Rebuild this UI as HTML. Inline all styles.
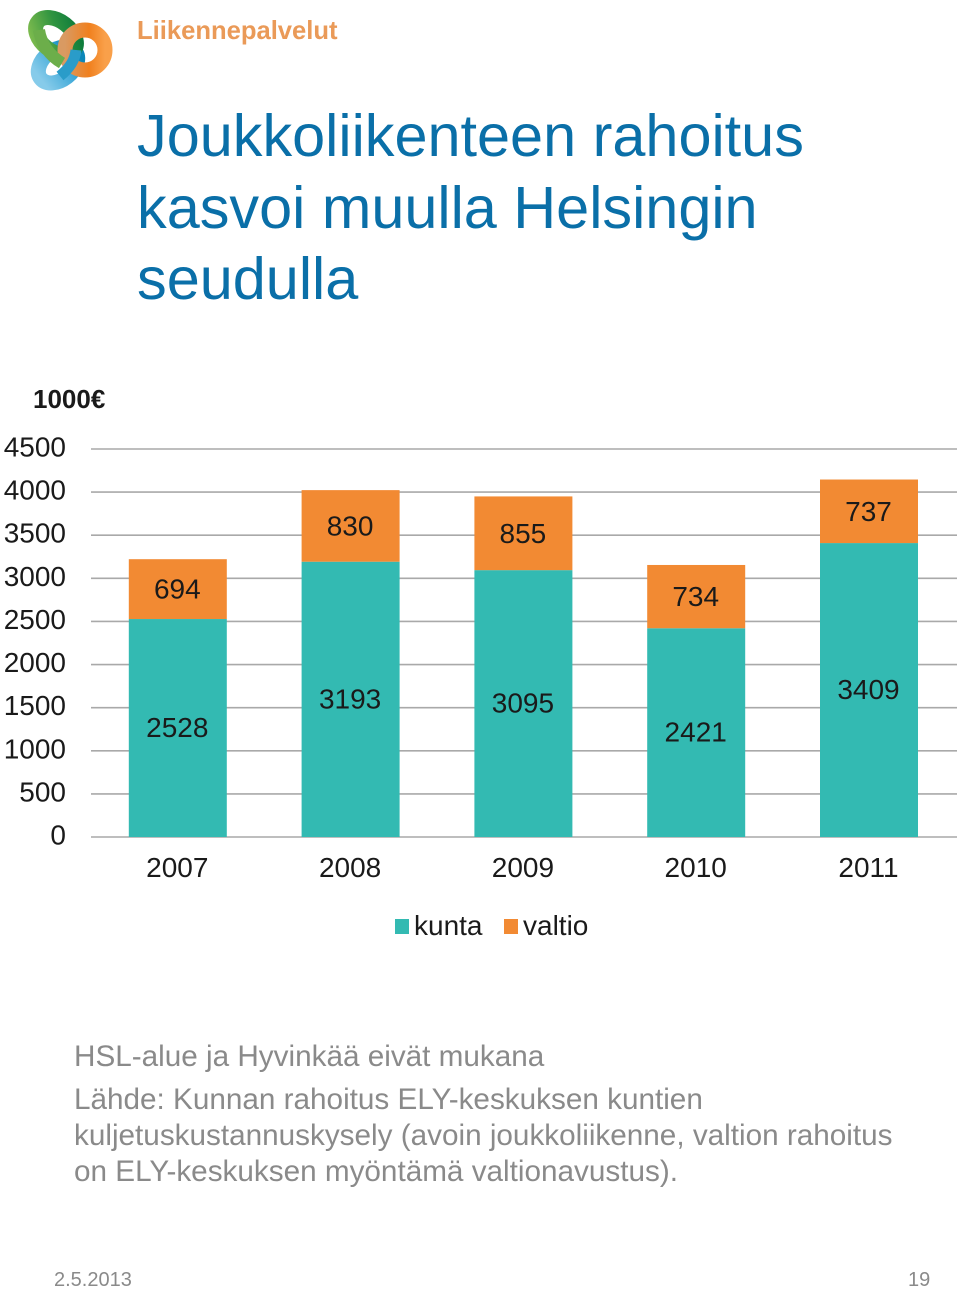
<!DOCTYPE html>
<html lang="fi">
<head>
<meta charset="utf-8">
<title>Joukkoliikenteen rahoitus</title>
<style>
html,body{margin:0;padding:0;background:#fff;}
body{width:960px;height:1288px;position:relative;overflow:hidden;font-family:"Liberation Sans",sans-serif;}
.t{position:absolute;white-space:nowrap;margin:0;font-weight:normal;}
#chart{position:absolute;left:0;top:0;}
</style>
</head>
<body>
<svg width="120" height="100" viewBox="0 0 120 100" style="position:absolute;left:0;top:0">
<defs>
<linearGradient id="gg" x1="0" y1="1" x2="1" y2="0"><stop offset="0" stop-color="#7dbb4e"/><stop offset=".55" stop-color="#2f9440"/><stop offset="1" stop-color="#0b7a3b"/></linearGradient>
<linearGradient id="gb" x1="0" y1="0" x2="1" y2="0"><stop offset="0" stop-color="#86cbea"/><stop offset=".6" stop-color="#3fa9d8"/><stop offset="1" stop-color="#0a86b8"/></linearGradient>
<linearGradient id="go" x1="0" y1="0" x2="1" y2="0"><stop offset="0" stop-color="#d99a62"/><stop offset=".6" stop-color="#f0801e"/><stop offset="1" stop-color="#f9a04a"/></linearGradient>
</defs>
<ellipse cx="58" cy="65" rx="22" ry="15" fill="none" stroke="url(#gb)" stroke-width="15" transform="rotate(-38 58 65)"/>
<ellipse cx="56" cy="36" rx="23" ry="15" fill="none" stroke="url(#gg)" stroke-width="15" transform="rotate(38 56 36)"/>
<ellipse cx="85" cy="50" rx="20" ry="20" fill="none" stroke="url(#go)" stroke-width="15"/>
<path d="M39 30 C41 44 50 56 62 63" fill="none" stroke="#6cae4a" stroke-width="12"/>
<path d="M76 50 C75 60 70 68 60 76" fill="none" stroke="#2a9cc9" stroke-width="11"/>
</svg>
<div class="t" style="left:137px;top:16px;font-size:25.6px;line-height:30px;font-weight:bold;color:#ea9a58">Liikennepalvelut</div>
<h1 class="t" style="left:137px;top:100px;font-size:59.4px;line-height:71.5px;color:#0a6fa8">Joukkoliikenteen rahoitus<br>kasvoi muulla Helsingin<br>seudulla</h1>
<svg id="chart" width="960" height="1000" viewBox="0 0 960 1000"></svg>
<div class="t" style="left:74px;top:1039px;font-size:29.7px;line-height:36px;color:#8a8a8a">HSL-alue ja Hyvinkää eivät mukana</div>
<div class="t" style="left:74px;top:1081.5px;font-size:29.7px;line-height:36px;color:#8a8a8a">Lähde: Kunnan rahoitus ELY-keskuksen kuntien<br>kuljetuskustannuskysely (avoin joukkoliikenne, valtion rahoitus<br>on ELY-keskuksen myöntämä valtionavustus).</div>
<div class="t" style="left:54px;top:1268px;font-size:20px;line-height:24px;color:#8a8a8a">2.5.2013</div>
<div class="t" style="left:908px;top:1268px;font-size:20px;line-height:24px;color:#8a8a8a">19</div>
<script>
const categories = ['2007', '2008', '2009', '2010', '2011'];
const kunta = [2528, 3193, 3095, 2421, 3409];
const valtio = [694, 830, 855, 734, 737];
const yTicks = [0, 500, 1000, 1500, 2000, 2500, 3000, 3500, 4000, 4500];
const legendLabels = ['kunta', 'valtio'];

const svg = document.getElementById('chart');
const NS = 'http://www.w3.org/2000/svg';
const plotLeft = 91, plotRight = 957, plotBottom = 837, plotTop = 449, yMax = 4500;
const barWidth = 98, firstCenter = 177.8, centerStep = 172.8;
const colKunta = '#33bab2', colValtio = '#f28a33';
function yScale(v) { return plotBottom - (v / yMax) * (plotBottom - plotTop); }
function xCenter(i) { return firstCenter + i * centerStep; }
function make(tag, props, text) {
  const el = document.createElementNS(NS, tag);
  for (const k in props) el.setAttribute(k, props[k]);
  if (text !== undefined) el.textContent = text;
  svg.appendChild(el);
  return el;
}
const fontProps = { 'font-family': '"Liberation Sans", sans-serif', fill: '#1a1a1a' };

const unit = make('text', Object.assign({}, fontProps, { x: 33, y: 408, 'font-size': 26, 'font-weight': 'bold' }), '1000€');



yTicks.forEach(function (t) {
  const line = make('line', { x1: plotLeft, x2: plotRight, y1: yScale(t), y2: yScale(t), stroke: '#a9a9a9', 'stroke-width': 1.6 });
  
  
  const label = make('text', Object.assign({}, fontProps, { x: 66, y: yScale(t) + 7.5, 'font-size': 28, 'text-anchor': 'end' }), String(t));
  
  
});

categories.forEach(function (c, i) {
  const cx = xCenter(i);
  const yK = yScale(kunta[i]);
  const yV = yScale(kunta[i] + valtio[i]);
  const barK = make('rect', { x: cx - barWidth / 2, y: yK, width: barWidth, height: plotBottom - yK, fill: colKunta });
  
  
  const barV = make('rect', { x: cx - barWidth / 2, y: yV, width: barWidth, height: yK - yV, fill: colValtio });
  
  
  const lk = make('text', Object.assign({}, fontProps, { x: cx - 0.5, y: (yK + plotBottom) / 2 + 9, 'font-size': 28, 'text-anchor': 'middle' }), String(kunta[i]));
  
  
  const lv = make('text', Object.assign({}, fontProps, { x: cx - 0.5, y: (yV + yK) / 2 + 9.5, 'font-size': 28, 'text-anchor': 'middle' }), String(valtio[i]));
  
  
  const lc = make('text', Object.assign({}, fontProps, { x: cx - 0.5, y: 877, 'font-size': 28, 'text-anchor': 'middle' }), c);
  
  
});

const legendX = [395, 504];
const legendColors = [colKunta, colValtio];
legendLabels.forEach(function (name, i) {
  const sw = make('rect', { x: legendX[i], y: 919, width: 14, height: 15, fill: legendColors[i] });
  
  
  const tx = make('text', Object.assign({}, fontProps, { x: legendX[i] + 19, y: 935, 'font-size': 28 }), name);
  
  
});
</script>
</body>
</html>
